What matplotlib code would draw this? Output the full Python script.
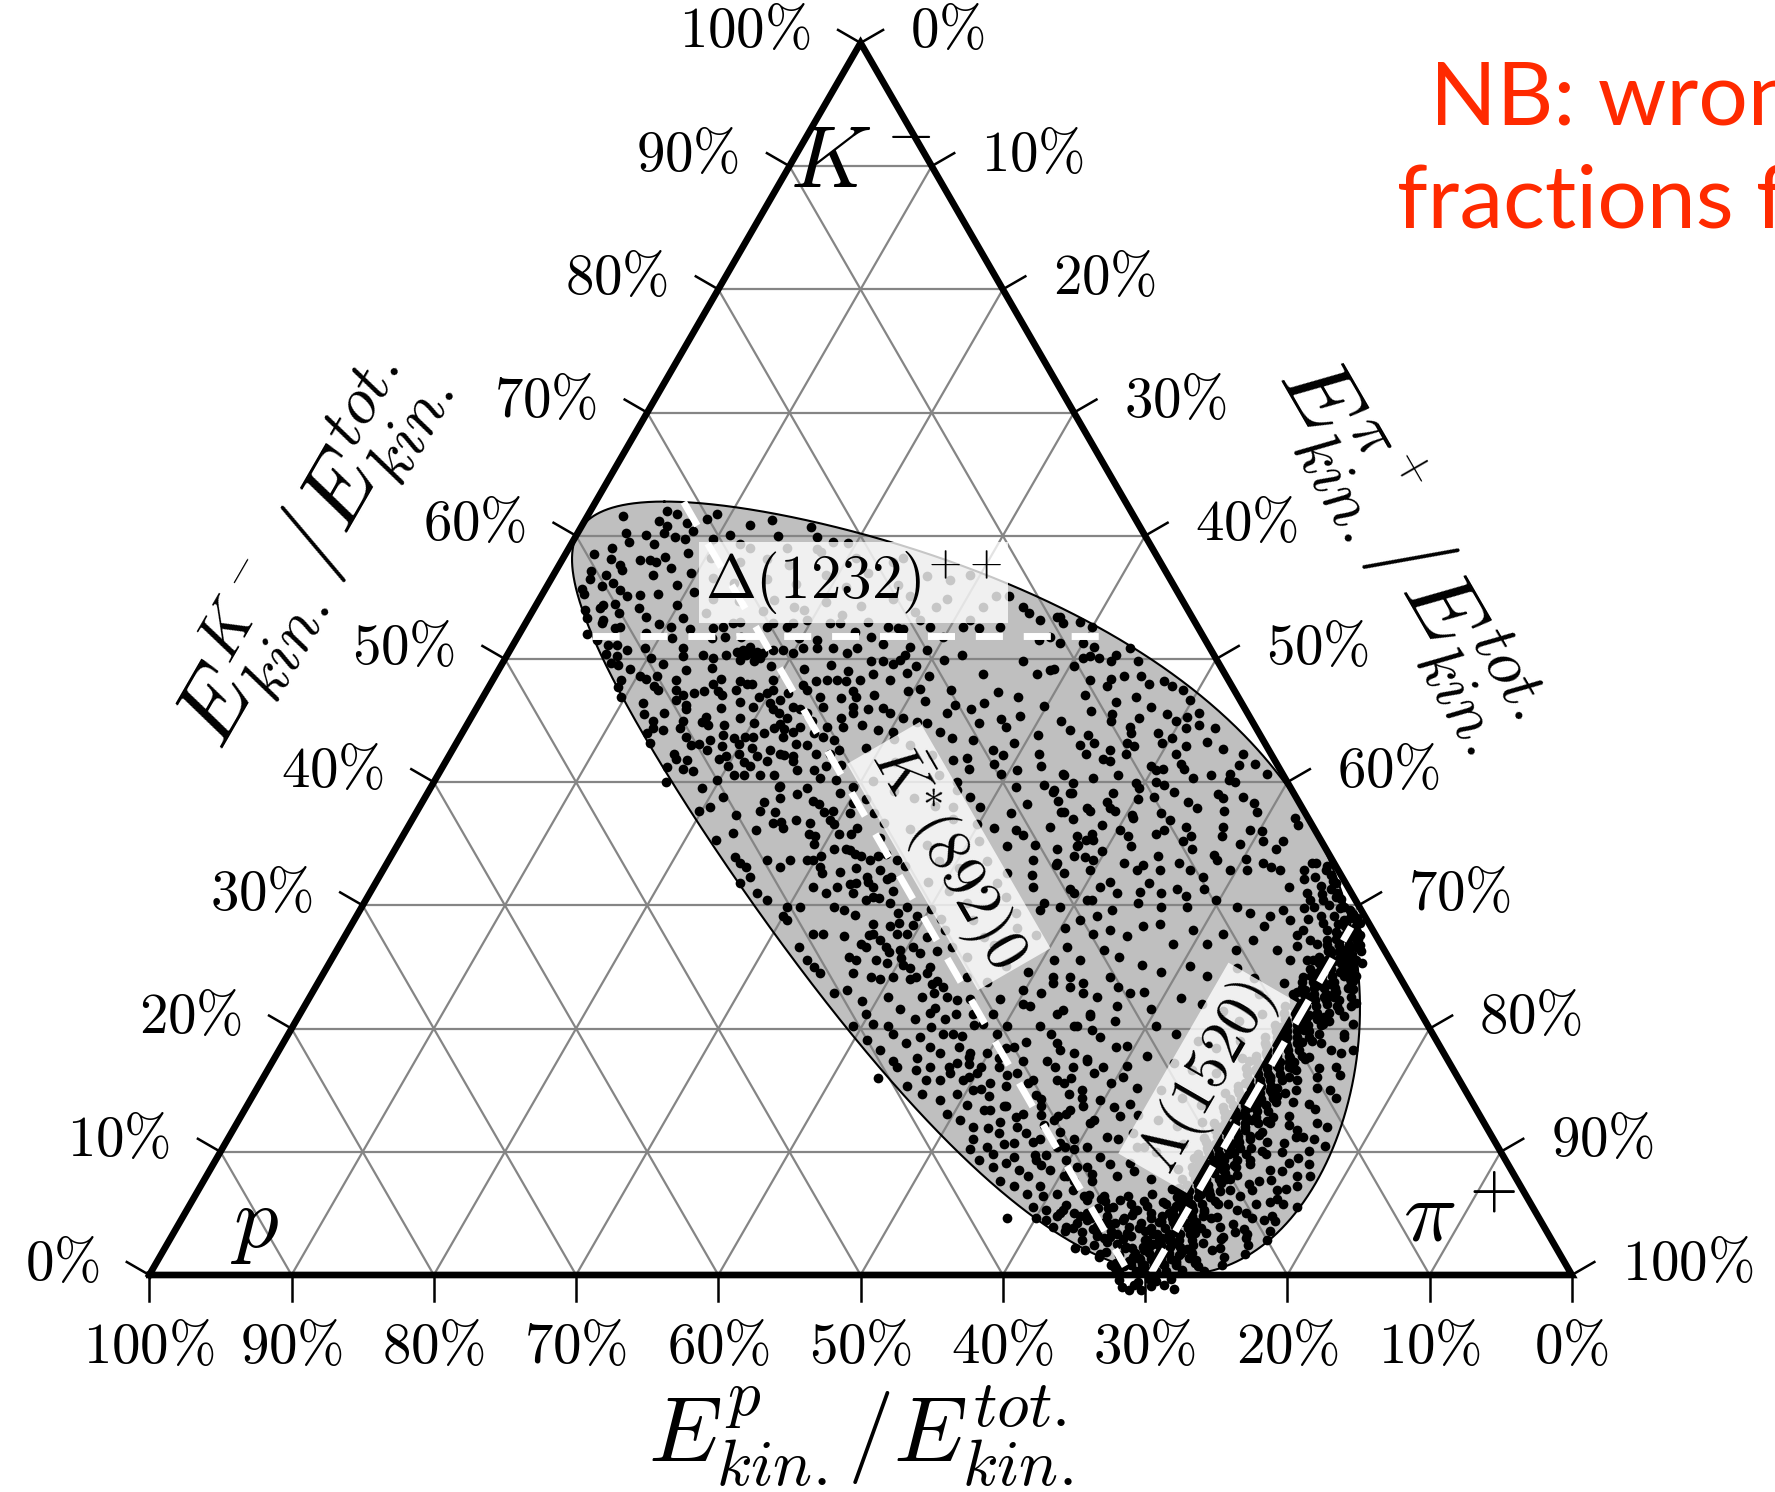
import numpy as np
import matplotlib
matplotlib.use("Agg")
import matplotlib.pyplot as plt
from matplotlib.patches import Polygon

plt.rcParams['mathtext.fontset'] = 'cm'
plt.rcParams['font.family'] = ['DejaVu Sans']

# ---------------- data ----------------
# Lambda_c+ -> p K- pi+ : masses in MeV
M_MOTHER = 2286.46
M_DAUGHTERS = {"p": 938.272, "K": 493.677, "pi": 139.570}
# resonance masses (MeV) for the dashed lines
RESONANCES = {"Delta": 1232.0, "Kstar": 895.55, "Lambda": 1519.5}
TICK_PCT = [0, 10, 20, 30, 40, 50, 60, 70, 80, 90, 100]

# events: (pi+ fraction %, K- fraction %)
events_upper_left = [
(5.4,62.0),(6.2,61.8),(7.3,61.0),(8.5,61.4),(9.0,61.8),(2.5,61.6),(5.2,61.2),(13.1,61.3),(16.2,60.7),(10.8,60.1),
(9.8,59.7),(7.8,59.7),(7.0,59.9),(6.1,60.2),(4.9,60.1),(3.4,60.2),(4.0,59.5),(11.9,59.3),(15.3,59.0),(18.3,59.5),
(19.4,59.4),(17.5,58.9),(17.9,58.7),(5.5,58.0),(6.2,58.0),(6.7,57.9),(7.1,58.3),(4.3,57.6),(4.6,57.2),(2.5,57.1),
(3.7,56.8),(2.7,56.5),(7.0,56.8),(9.1,56.0),(2.6,55.7),(5.3,55.6),(6.0,55.1),(6.9,55.2),(5.5,54.5),(4.7,54.4),
(4.6,54.1),(7.4,54.1),(9.9,54.4),(8.2,53.4),(4.1,53.3),(5.3,53.2),(6.8,52.6),(6.5,52.5),(9.4,52.8),(10.4,52.6),
(4.8,52.0),(8.9,52.1),(6.7,51.1),(7.3,51.1),(8.2,50.7),(9.4,50.9),(12.1,50.9),(13.4,52.5),(14.0,52.6),(14.6,52.9),
(15.0,53.0),(13.7,51.7),(14.6,51.8),(15.7,51.8),(17.1,52.6),(17.4,52.9),(18.5,52.6),(18.8,52.9),(19.6,53.2),(21.4,52.9),
(22.1,52.9),(24.0,53.0),(25.6,52.6),(26.4,52.5),(7.8,50.2),(10.2,50.1),(12.4,50.2),(13.8,50.3),(14.6,50.1),(15.4,50.3),
(16.0,50.6),(16.4,50.7),(17.0,50.5),(17.4,50.6),(17.9,50.1),(17.6,49.8),(16.6,49.9),(18.5,50.7),(19.2,50.7),(20.0,50.5),
(20.5,50.9),(21.5,50.9),(22.6,50.9),(23.8,50.5),(24.3,50.9),(25.8,49.8),(26.7,49.8),(27.5,49.6),(8.2,49.5),(9.2,49.2),
(10.2,48.6),(10.7,48.4),(11.4,48.6),(11.6,47.8),(12.0,47.5),(12.9,48.3),(13.3,47.5),(14.0,47.1),(14.7,47.2),(15.3,47.4),
(15.6,48.0),(16.0,48.4),(16.7,47.1),(17.5,47.5),(17.4,48.2),(18.0,48.0),(18.4,48.0),(19.4,46.9),(19.8,47.2),(20.1,47.5),
(21.0,46.7),(21.3,47.2),(22.0,47.9),(22.5,47.5),(22.8,48.2),(23.5,48.3),(24.2,48.3),(24.9,48.2),(25.8,47.4),(25.8,48.3),
(26.5,48.8),(27.9,48.3),(11.5,46.4),(13.7,46.7),(14.8,45.9),(16.5,45.3),(16.3,47.4),(18.3,46.5),(19.4,46.1),(20.4,46.4),
(20.9,45.9),(21.5,45.6),(22.2,45.2),(22.8,45.9),(23.4,45.6),(23.7,46.9),(24.3,46.1),(26.4,46.1),(26.2,46.9),(27.6,45.9),
(28.6,46.0),(29.3,45.6),(12.9,45.0),(13.2,44.4),(14.0,44.2),(15.1,44.4),(15.0,45.0),(15.9,43.7),(17.1,43.1),(17.7,43.4),
(18.4,43.8),(19.3,43.6),(19.9,43.1),(20.6,43.7),(21.2,44.0),(21.7,44.4),(22.7,43.7),(23.2,44.1),(23.9,43.1),(24.7,43.0),
(24.7,44.0),(25.5,43.7),(26.4,43.4),(26.0,45.2),(26.5,44.5),(26.7,45.6),(15.7,42.3),(16.1,41.9),(16.9,41.8),(17.9,42.6),
(19.1,41.9),(19.5,42.1),(20.3,42.3),(21.7,42.1),(22.3,42.6),(23.2,42.3),(24.2,42.1),(25.7,42.3),(26.7,42.3),(27.2,42.6),
(16.8,50.3),(17.5,50.2),(17.9,50.5),(16.2,50.6),(16.7,51.0),(19.7,48.3),(22.2,46.1),(24.1,45.0),(25.4,44.5),(23.5,44.5),
]
events_upper_left_more = [
(3.0,59.0),(5.8,59.3),(8.6,58.6),(10.4,58.2),(12.6,57.9),(14.4,58.1),(16.2,57.6),(20.6,58.2),(22.0,57.0),(3.4,58.1),
(8.0,57.4),(9.6,57.0),(11.3,56.6),(13.0,56.2),(15.2,56.5),(17.4,56.1),(19.2,56.8),(21.1,55.8),(24.6,56.0),(25.9,55.1),
(2.9,55.3),(3.9,55.9),(8.1,55.3),(10.6,55.4),(12.2,54.9),(14.1,54.7),(16.5,54.8),(18.2,54.2),(20.3,54.6),(22.9,54.3),
(24.8,54.9),(26.9,53.8),(3.6,54.0),(6.2,53.7),(10.9,53.3),(12.3,53.7),(16.2,53.9),(19.0,54.0),(21.9,53.6),(23.5,52.2),
(5.4,52.9),(5.7,51.5),(10.9,51.7),(11.8,52.4),(19.8,51.7),(21.2,51.5),(24.8,51.8),(26.0,51.2),(28.0,50.3),(6.9,50.4),
(7.6,49.7),(11.3,49.6),(13.2,49.1),(14.9,49.3),(19.0,49.4),(21.4,49.2),(23.2,49.5),(24.6,49.0),(28.8,48.9),(30.5,48.6),
(9.0,48.3),(9.1,47.7),(14.6,46.3),(17.2,46.0),(18.9,45.2),(20.1,44.8),(22.0,44.7),(25.2,46.8),(27.4,47.1),(29.6,47.4),
(31.2,46.6),(9.7,46.9),(12.0,45.5),(13.4,45.6),(16.4,44.9),(18.1,44.6),(27.8,44.6),(29.1,44.2),(30.4,45.2),(13.0,44.0),
(13.6,43.2),(16.6,43.0),(18.8,42.9),(21.0,42.8),(24.4,41.7),(27.9,41.4),(29.0,42.8),(30.6,43.5),(15.8,41.2),(17.8,40.9),
(20.0,41.3),(22.6,41.7),(6.0,60.8),(8.0,60.4),(11.8,60.9),(14.2,60.0),(17.0,59.9),(12.7,59.0),(2.0,58.5),(4.5,56.2),
]
events_upper_mid = [
(23.3,57.9),(23.9,58.2),(26.3,56.7),(28.1,56.4),(29.3,56.8),(28.6,54.9),(28.2,54.2),(31.5,54.2),(32.0,55.1),(32.9,55.1),
(27.6,53.2),(28.6,52.6),(29.9,51.8),(30.9,52.6),(31.1,53.2),(32.1,52.5),(33.5,52.6),(34.3,54.2),(35.0,53.7),(36.0,53.2),
(37.4,51.8),(37.3,53.4),(36.8,51.5),(29.3,50.7),(30.9,49.9),(32.0,50.3),(34.2,48.8),(36.5,49.8),(38.0,48.8),(38.8,49.1),
(28.0,51.0),(29.2,49.4),(27.8,49.9),(26.8,52.4),(33.5,46.3),(34.8,45.9),(35.5,46.4),(31.5,44.9),(32.3,44.8),(33.3,45.6),
(33.5,44.1),(37.3,45.1),(38.0,44.5),(38.5,45.4),(40.6,43.8),(41.4,42.3),(39.2,43.2),(36.2,43.4),(38.0,42.6),(38.9,42.2),
(36.5,42.0),(32.6,47.5),(36.0,47.3),(30.4,47.6),
]
events_middle_more = [
(30.2,44.1),(32.0,43.0),(34.6,43.6),(35.9,44.8),(37.6,46.9),(39.8,46.2),(41.6,45.0),(42.2,47.1),(43.3,45.8),(45.9,46.9),
(31.6,41.6),(33.9,42.2),(35.2,40.6),(36.8,40.0),(39.5,40.7),(41.1,39.6),(42.6,38.2),(44.6,38.5),(46.2,40.3),(47.8,40.6),
(30.8,40.1),(32.7,39.3),(34.4,38.7),(36.2,38.1),(38.0,37.0),(39.9,36.6),(40.7,35.2),(43.6,35.7),(44.8,34.9),(46.4,37.0),
(27.4,38.5),(29.8,36.6),(31.4,35.8),(33.6,35.5),(35.4,36.2),(37.2,34.9),(38.7,33.6),(40.4,33.0),(42.1,33.6),(43.7,31.8),
(30.6,33.1),(32.2,32.7),(36.5,33.2),(38.8,31.9),(40.6,31.2),(42.4,30.2),(44.9,30.7),(46.2,29.4),(45.8,32.5),(48.8,33.9),
(33.2,29.9),(35.0,29.2),(36.6,28.5),(38.4,28.6),(40.1,29.7),(41.9,28.0),(43.5,28.8),(45.0,27.4),(46.9,28.2),(48.5,27.6),
(50.3,28.2),(52.9,29.6),(54.4,30.2),(56.2,29.9),(57.5,30.8),(53.9,34.0),(56.0,34.6),(57.8,34.1),(60.2,33.8),(62.3,33.1),
(49.8,34.4),(51.6,34.8),(53.2,33.3),(55.1,35.2),(57.6,35.6),(50.4,37.3),(53.8,38.4),(55.6,39.0),(46.2,42.6),(48.9,44.0),
(51.0,45.6),(54.1,42.7),(53.2,40.3),(42.6,44.2),(44.9,45.5),
]
events_right_upper = [
(37.1,53.4),(37.8,52.9),(38.9,53.0),(40.0,52.6),(38.4,51.3),(40.0,51.3),(40.9,51.0),(41.0,50.2),(41.7,50.1),(42.7,49.8),
(42.8,50.3),(43.5,50.9),(44.6,49.8),(39.0,49.2),(40.3,49.4),(40.6,50.1),(43.4,48.4),(44.2,48.6),(45.4,48.6),(42.0,48.3),
(43.4,47.8),(46.3,48.0),(47.2,48.2),(48.0,47.8),(48.9,47.5),(49.8,46.7),(44.7,46.5),(47.4,46.1),(45.1,45.0),(47.0,45.2),
(48.8,45.5),(50.3,45.3),(49.7,45.0),(50.7,44.4),(51.5,44.6),(52.7,44.4),(46.7,44.5),(47.0,44.0),(44.1,43.8),(43.9,43.0),
(44.8,43.2),(44.7,42.3),(46.1,41.9),(46.7,41.7),(47.1,43.2),(47.8,42.9),(47.5,42.3),(49.6,43.2),(50.1,43.6),(51.4,42.9),
(52.7,43.3),(51.0,42.3),(55.7,42.3),(55.9,41.4),(57.0,41.5),(58.2,40.7),(55.6,40.7),(54.3,40.6),(55.8,40.2),(56.3,40.0),
(44.0,40.6),(43.9,39.4),(45.3,39.1),(48.2,39.1),(48.1,38.4),(48.6,37.9),(49.0,37.7),(49.4,39.9),(49.8,39.5),(50.2,38.6),
(49.8,41.3),(50.3,41.0),(50.7,41.1),(52.2,41.1),(51.8,41.5),(52.4,39.2),(50.8,40.0),(51.4,39.8),(51.2,38.8),(52.4,37.5),
(53.3,36.9),(53.3,36.1),(52.9,35.8),(50.6,37.1),(50.2,36.1),(51.0,35.6),(48.7,35.3),(48.7,36.5),(47.0,37.9),(45.3,37.6),
(46.5,34.6),(47.8,34.9),(54.7,36.4),(55.4,35.6),(54.7,37.9),(56.1,38.7),(56.7,37.7),(57.3,36.4),(57.5,38.8),(58.5,38.3),
(59.1,37.6),(59.3,36.1),(60.2,36.0),(60.7,35.2),(59.2,35.0),(61.9,34.6),(62.0,37.1),(62.5,36.5),(62.1,35.2),
]
events_right_lower = [
(47.1,33.3),(48.0,34.0),(49.5,33.7),(51.6,31.9),(51.8,33.4),(53.0,32.9),(54.4,31.8),(54.6,32.9),(55.7,33.4),(56.7,32.9),
(57.9,32.3),(58.2,33.7),(59.5,32.9),(60.7,32.9),(61.6,33.4),(63.0,32.9),(64.4,31.5),(65.3,33.4),(66.3,32.9),(65.1,32.1),
(66.4,30.4),(66.9,29.9),(67.3,30.4),(67.4,31.3),(68.1,30.7),(69.0,29.9),(68.7,29.1),(69.6,29.6),(69.7,28.5),(70.0,27.5),
(70.5,27.7),(71.3,27.2),(70.7,26.4),(69.8,26.4),(70.0,25.6),(68.6,26.9),(67.1,28.0),(65.8,28.8),(64.9,29.6),(64.2,29.1),
(64.2,28.3),(62.7,29.4),(61.5,29.9),(59.8,30.4),(58.5,31.3),(58.0,29.9),(56.6,31.3),(55.6,31.0),(54.1,31.1),(52.5,31.0),
(51.1,31.5),(50.7,30.4),(49.1,31.3),(49.1,29.9),(51.0,28.8),(52.1,29.1),(53.5,28.0),(55.0,27.5),(55.7,28.3),(56.8,28.5),
(58.5,26.9),(59.4,28.0),(60.9,26.9),(61.6,27.7),(63.2,26.4),(64.0,27.2),(66.1,26.4),(67.3,26.7),(67.4,25.6),(68.6,25.6),
(51.4,24.2),(53.0,23.4),(53.8,23.7),(55.3,22.6),(55.4,24.2),(57.1,21.8),(57.5,22.9),(53.5,21.5),(55.1,20.2),(55.6,21.0),
(57.2,19.3),(58.7,18.5),(54.9,18.3),(56.5,16.9),(57.2,17.5),(58.6,16.9),(60.4,16.1),(56.5,15.6),(58.1,15.0),(59.7,14.2),
(59.8,15.6),(62.0,13.9),(57.4,12.9),(58.0,13.4),(60.0,12.3),(61.7,11.2),(61.8,12.9),(63.4,11.5),(64.7,10.4),(58.7,10.7),
(59.9,10.2),(61.5,8.8),(62.0,9.6),(64.0,8.0),(64.4,9.1),(60.5,8.0),(62.5,6.4),(63.9,6.4),(65.2,6.1),(66.8,5.3),
(61.6,5.3),(63.1,4.2),(64.5,3.7),(66.0,3.1),(67.0,3.4),(68.7,2.3),(67.5,0.95),(68.4,1.5),
(67.9,23.7),(69.0,24.2),(70.1,24.8),(71.4,25.0),(72.6,23.7),(71.8,22.9),(70.7,22.3),(69.5,21.8),(72.9,21.5),(73.8,22.1),
(72.3,20.4),(71.2,19.9),(70.0,19.3),(74.3,19.3),(75.5,18.3),(73.9,18.3),(72.7,17.7),(71.7,16.9),(70.7,16.1),(75.0,16.9),
(74.0,16.1),(73.1,15.0),(72.0,14.5),(70.9,13.9),(75.5,15.0),(74.6,13.9),(73.7,12.9),(72.6,12.3),(75.9,12.3),(75.5,11.2),
(74.4,10.7),(73.2,10.1),(72.7,9.3),(76.5,10.1),(75.6,9.1),(74.5,8.5),(73.6,7.4),(72.5,6.9),(76.7,8.0),(75.8,6.9),
(74.9,5.8),(73.8,5.3),(72.7,4.7),(76.8,5.8),(76.1,4.5),(75.1,3.7),(73.9,3.1),(72.8,2.6),(72.1,2.0),(71.7,0.95),
(73.0,1.2),(69.5,-1.2),(69.6,-0.8),(70.3,-1.2),(71.0,-0.5),(68.9,-1.0),(72.0,-0.3),
]
events_right_of_kstar_more = [
(36.6,26.9),(38.9,26.2),(41.0,27.4),(43.1,26.6),(44.6,25.8),(46.0,26.8),(47.7,25.1),(49.5,24.6),(47.0,23.8),(48.6,22.4),
(50.4,22.0),(53.9,26.4),(55.3,25.8),(57.2,25.2),(58.8,24.6),(60.6,25.1),(62.2,24.3),(64.0,24.9),(65.6,24.1),(66.6,22.8),
(56.4,23.4),(58.4,23.0),(59.6,21.6),(61.3,22.5),(63.0,22.0),(64.8,21.4),(66.3,20.6),(67.6,21.2),(60.7,20.2),(62.4,19.6),
(64.2,19.0),(65.8,18.4),(67.2,19.0),(59.4,18.6),(61.2,17.8),(63.4,17.2),(65.0,16.6),(66.8,16.4),(68.0,17.6),(60.2,17.0),
(61.8,15.2),(63.6,15.0),(65.4,14.4),(67.0,13.8),(68.2,14.8),(61.0,13.6),(63.0,13.0),(64.6,12.6),(66.2,12.1),(67.8,12.4),
(62.6,11.0),(64.2,10.4),(65.8,10.0),(67.4,10.6),(63.0,9.0),(65.0,8.4),(66.5,7.8),(68.0,8.6),(67.2,6.6),(68.3,5.9),
(39.0,22.2),(40.6,22.6),(42.0,21.6),(43.4,20.8),(44.9,20.1),(46.1,21.2),(45.2,17.6),(46.4,16.9),(48.1,16.4),(49.1,17.1),
(50.9,17.6),(52.2,18.9),(53.6,19.6),(56.3,19.9),(57.6,20.6),(55.2,16.9),(56.8,16.0),(58.4,14.4),(55.0,14.6),(56.2,13.0),
(50.6,13.8),(51.8,14.5),(53.6,12.4),(55.0,12.0),(56.7,10.8),(52.6,10.2),(54.4,9.8),(56.0,9.6),(58.2,9.7),(59.8,9.3),
(56.0,7.6),(57.8,8.0),(59.6,6.4),(61.2,7.6),(60.0,4.6),(61.4,4.8),(63.0,4.8),(64.0,5.4),(65.8,4.2),(64.0,2.2),
(41.5,24.0),(40.4,25.2),(38.5,26.6),(37.9,29.4),(36.0,30.6),(34.6,31.9),(33.2,33.0),(32.0,34.5),(30.6,35.8),(29.4,36.9),
(43.0,22.6),(44.2,21.3),(46.0,19.6),(47.4,19.4),(48.2,17.2),(49.6,16.1),(50.9,15.1),(52.0,13.4),(53.0,11.9),(54.8,10.6),
]
events_lambda_band = [
(69.2,0.3),(70.0,0.3),(70.6,0.3),(71.3,0.3),(68.6,0.8),(69.5,0.8),(70.2,0.8),(70.9,0.8),(71.8,0.8),
(69.0,1.3),(69.8,1.3),(70.5,1.3),(71.2,1.3),(68.4,1.8),(69.4,1.8),(70.1,1.8),(70.8,1.8),(71.6,1.8),(72.4,1.8),
(69.1,2.3),(69.9,2.3),(70.6,2.3),(71.3,2.3),(68.7,2.8),(69.6,2.8),(70.3,2.8),(71.0,2.8),(71.9,2.8),
(69.2,3.3),(70.0,3.3),(70.8,3.3),(71.5,3.3),(68.5,3.8),(69.5,3.8),(70.3,3.8),(71.1,3.8),(72.0,3.8),
(69.0,4.3),(69.8,4.3),(70.6,4.3),(71.4,4.3),(68.8,4.8),(69.6,4.8),(70.2,4.8),(70.9,4.8),(71.7,4.8),
(69.3,5.3),(70.0,5.3),(70.7,5.3),(71.5,5.3),(68.6,5.8),(69.5,5.8),(70.3,5.8),(71.1,5.8),(72.2,5.8),
(69.1,6.3),(69.9,6.3),(70.6,6.3),(71.4,6.3),(68.9,6.8),(69.7,6.8),(70.4,6.8),(71.1,6.8),(71.9,6.8),
(69.3,7.3),(70.1,7.3),(70.8,7.3),(68.7,7.8),(69.6,7.8),(70.4,7.8),(71.3,7.8),(72.1,7.8),
(69.2,8.3),(70.0,8.3),(70.7,8.3),(71.5,8.3),(68.9,8.8),(69.7,8.8),(70.4,8.8),(71.2,8.8),
(69.4,9.3),(70.2,9.3),(70.9,9.3),(71.8,9.3),(68.8,9.8),(69.6,9.8),(70.3,9.8),(71.0,9.8),
(69.2,10.3),(70.0,10.3),(70.7,10.3),(71.5,10.3),(72.3,10.3),(68.9,10.8),(69.8,10.8),(70.5,10.8),(71.2,10.8),
(69.4,11.3),(70.2,11.3),(70.9,11.3),(71.7,11.3),(69.0,11.8),(69.7,11.8),(70.4,11.8),(71.1,11.8),
(68.7,12.3),(69.5,12.3),(70.2,12.3),(70.9,12.3),(71.8,12.3),(69.2,12.8),(70.0,12.8),(70.7,12.8),(71.4,12.8),
(68.9,13.3),(69.7,13.3),(70.4,13.3),(71.2,13.3),(72.0,13.3),(69.3,13.8),(70.1,13.8),(70.8,13.8),(71.6,13.8),
(68.8,14.3),(69.6,14.3),(70.3,14.3),(71.0,14.3),(69.2,14.8),(70.0,14.8),(70.7,14.8),(71.5,14.8),(72.4,14.8),
(68.9,15.3),(69.7,15.3),(70.5,15.3),(71.2,15.3),(69.4,15.8),(70.2,15.8),(70.9,15.8),(71.7,15.8),
(69.0,16.3),(69.8,16.3),(70.5,16.3),(71.3,16.3),(68.7,16.8),(69.5,16.8),(70.2,16.8),(71.0,16.8),(71.9,16.8),
(69.2,17.3),(70.0,17.3),(70.8,17.3),(71.5,17.3),(68.9,17.8),(69.7,17.8),(70.4,17.8),(71.2,17.8),(72.1,17.8),
(69.4,18.3),(70.1,18.3),(70.9,18.3),(71.7,18.3),(69.0,18.8),(69.8,18.8),(70.5,18.8),(71.3,18.8),
(68.8,19.3),(69.6,19.3),(70.3,19.3),(71.0,19.3),(71.9,19.3),(69.3,19.8),(70.1,19.8),(70.8,19.8),(71.6,19.8),
(69.0,20.3),(69.8,20.3),(70.5,20.3),(71.3,20.3),(72.2,20.3),(69.4,20.8),(70.2,20.8),(70.9,20.8),(71.7,20.8),
(69.1,21.3),(69.9,21.3),(70.6,21.3),(71.4,21.3),(72.3,21.3),(68.9,21.8),(69.7,21.8),(70.4,21.8),(71.1,21.8),
(69.3,22.3),(70.1,22.3),(70.8,22.3),(71.6,22.3),(72.5,22.3),(69.0,22.8),(69.8,22.8),(70.5,22.8),(71.3,22.8),
(69.4,23.3),(70.2,23.3),(70.9,23.3),(71.7,23.3),(72.6,23.3),(69.1,23.8),(69.9,23.8),(70.6,23.8),(71.4,23.8),
(69.5,24.3),(70.3,24.3),(71.0,24.3),(71.8,24.3),(72.7,24.3),(69.2,24.8),(70.0,24.8),(70.7,24.8),(71.5,24.8),
(69.6,25.3),(70.4,25.3),(71.1,25.3),(71.9,25.3),(72.6,25.3),(69.3,25.8),(70.1,25.8),(70.8,25.8),(71.6,25.8),
(69.7,26.3),(70.5,26.3),(71.2,26.3),(72.0,26.3),(69.4,26.8),(70.2,26.8),(70.9,26.8),(71.7,26.8),
(69.8,27.3),(70.6,27.3),(71.3,27.3),(69.5,27.8),(70.3,27.8),(71.0,27.8),(69.9,28.3),(70.7,28.3),
(69.6,28.8),(70.4,28.8),(70.0,29.3),
(68.0,31.0),(67.5,31.8),(66.8,32.5),(68.5,30.5),(67.2,32.0),(66.2,33.2),(67.9,30.0),(68.8,29.8),
(72.4,24.0),(73.0,23.2),(72.0,22.6),(73.5,21.0),(72.6,20.6),(74.2,19.6),(73.0,18.8),(74.8,18.0),(72.5,17.5),(73.8,16.8),
(75.6,16.2),(72.8,15.8),(74.5,15.2),(76.2,14.4),(73.4,14.0),(75.2,13.5),(72.6,12.8),(74.0,12.2),(76.8,12.0),(75.0,11.2),
(73.2,10.8),(77.4,10.5),(74.6,10.0),(76.0,9.5),(72.9,9.0),(75.4,8.4),(77.6,8.0),(74.2,7.6),(76.4,7.0),(73.5,6.4),
(75.8,5.9),(77.9,5.5),(74.6,5.0),(76.9,4.4),(73.3,3.9),(75.5,3.3),(77.2,2.8),(74.2,2.2),(76.2,1.7),(73.0,1.0),
(75.0,0.8),(72.4,0.4),(74.0,0.3),
]
events_lambda_band_more = [
(69.5,0.6),(70.4,1.1),(71.6,1.6),(68.9,2.0),(70.8,2.6),(69.7,3.0),(71.8,3.4),(70.1,4.0),(71.0,4.6),(69.2,5.0),
(70.5,5.6),(71.9,6.0),(69.4,6.5),(70.9,7.1),(71.6,7.5),(69.9,8.0),(71.1,8.6),(69.3,9.0),(70.6,9.6),(72.2,9.8),
(69.6,10.6),(71.0,11.0),(72.4,11.6),(69.9,12.1),(71.2,12.6),(69.5,13.1),(70.6,13.6),(72.2,14.0),(69.9,14.6),(71.3,15.0),
(69.2,15.6),(70.7,16.1),(72.3,16.6),(69.9,17.1),(71.4,17.6),(69.5,18.0),(70.7,18.6),(72.2,19.0),(69.8,19.6),(71.2,20.1),
(69.6,20.6),(71.0,21.1),(72.6,21.8),(69.9,22.1),(71.3,22.6),(69.7,23.1),(71.2,23.6),(72.7,23.9),(70.0,24.1),(71.4,24.6),
(69.9,25.1),(71.3,25.6),(70.0,26.1),(71.5,26.6),(70.1,27.1),(71.3,27.6),(70.2,28.1),(69.3,28.5),(70.8,28.6),(69.9,29.0),
(65.0,33.4),(65.8,32.3),(64.7,32.9),(66.6,31.6),(65.9,31.0),(67.0,30.9),(66.3,29.8),(67.8,29.1),(68.2,28.6),(67.0,28.9),
(68.8,28.0),(66.9,27.6),(68.0,27.2),(71.9,24.9),(72.0,25.6),(71.5,26.0),(72.2,24.4),(73.2,22.6),(73.6,21.8),(74.4,20.4),
(68.3,1.1),(69.9,1.5),(71.9,2.1),(69.3,2.5),(70.4,3.5),(71.4,3.9),(68.9,4.4),(72.3,4.6),(70.6,5.0),(69.8,5.9),
(71.3,6.5),(68.8,7.1),(70.3,7.6),(72.4,8.1),(69.5,8.6),(71.8,8.9),(70.1,9.1),(68.7,9.5),(71.3,9.9),(69.4,10.1),
(70.9,10.6),(68.6,11.1),(71.9,11.0),(70.6,11.6),(69.3,12.0),(72.3,12.5),(70.4,13.0),(68.7,13.6),(71.8,14.4),(70.5,14.6),
(69.0,15.0),(71.7,15.2),(70.3,15.6),(72.1,16.1),(69.4,16.6),(70.8,17.0),(68.6,17.4),(71.8,17.3),(70.3,18.0),(69.2,18.6),
(71.6,18.9),(70.1,19.1),(72.4,19.6),(69.5,20.1),(70.8,20.6),(72.1,20.9),(69.8,21.6),(71.8,22.0),(70.3,22.6),(69.2,23.0),
(71.9,23.0),(70.5,23.5),(69.8,24.5),(72.2,24.9),(70.5,25.5),(69.0,25.6),(70.9,26.0),(69.2,27.2),(70.9,27.5),(70.4,29.0),
]
events_lower_left = [
(16.3,40.0),(17.0,41.1),(19.1,39.5),(19.8,40.2),(20.8,40.6),(21.6,41.3),(22.6,40.6),(23.6,40.6),(24.5,39.6),(25.0,41.0),
(26.2,41.0),(26.9,41.3),(28.2,40.2),(29.0,39.1),(29.7,39.6),(24.0,38.4),(25.0,38.7),(24.1,37.7),(26.0,39.0),(26.5,39.5),
(20.9,38.8),(20.4,38.0),(19.8,37.7),(22.6,37.3),(24.6,36.1),(25.5,36.7),(26.4,36.3),(27.0,36.9),(28.1,36.7),(28.5,35.8),
(28.6,37.6),(29.2,37.7),(30.5,37.5),(30.3,38.3),(31.1,38.6),(32.2,37.5),(33.3,36.7),(35.6,41.8),(37.1,41.1),(38.6,41.5),
(40.5,41.0),(42.0,41.3),(43.9,40.7),(45.0,39.9),(43.0,39.8),(43.9,39.2),(45.2,39.1),(37.1,39.4),(38.3,38.8),(39.4,38.0),
(41.8,37.5),(42.9,36.1),(41.2,36.3),(45.5,37.6),(47.3,37.7),(37.5,38.0),(45.1,36.4),(47.4,35.6),(48.2,35.3),
(22.2,35.3),(23.1,35.9),(29.2,35.0),(30.8,34.6),(31.7,34.6),(33.0,34.0),(33.8,33.7),(34.2,34.0),(34.7,34.2),(35.7,33.7),
(34.9,32.9),(34.3,32.3),(33.8,31.8),(35.1,31.5),(35.8,32.1),(36.7,31.2),(35.5,30.7),(35.2,30.4),(34.0,31.0),(32.6,31.5),
(32.1,31.0),(30.9,31.5),(30.8,29.9),(29.9,29.9),(30.0,29.1),(28.2,30.4),(27.2,31.0),(25.6,31.8),(26.1,32.3),(25.4,33.1),
(26.6,33.7),(27.8,33.1),(28.2,33.7),(29.4,33.7),(30.2,34.0),(24.8,33.4),(24.2,33.9),(42.9,34.8),(45.3,33.7),
(47.1,33.4),(47.8,34.8),(48.4,35.8),(44.0,32.6),(46.4,31.5),(48.0,32.6),(49.7,32.9),(47.8,30.2),(49.5,31.0),(51.1,30.4),
(47.8,29.6),(38.3,29.9),(39.4,29.1),
(30.4,28.8),(32.8,27.7),(33.5,27.7),(33.4,25.6),(34.2,25.0),(34.9,24.5),(36.7,22.9),(37.5,23.1),
(36.3,25.8),(36.9,25.6),(37.1,26.6),(37.0,27.7),(37.8,27.2),(37.9,28.3),(38.7,27.7),(39.6,26.4),(38.3,25.6),(39.2,25.3),
(37.2,24.5),(38.6,24.2),(39.4,24.0),(40.2,24.2),(39.4,27.7),(40.4,26.6),(41.1,26.1),(42.4,25.0),(43.4,23.9),(44.1,23.4),
(42.4,24.5),(41.8,24.2),(43.7,22.9),(44.8,22.6),(45.6,22.3),(35.1,27.5),(32.4,26.6),
(51.7,23.7),(52.6,24.2),(54.2,22.9),(51.2,22.9),(49.9,23.1),(51.2,26.6),(52.6,25.6),(52.5,27.7),(50.8,25.6),
(39.4,20.2),(39.8,21.2),(40.7,20.4),(41.8,20.2),(42.5,19.6),(40.9,19.1),(42.2,18.3),(43.6,17.4),(43.8,18.8),
(44.5,19.3),(45.6,18.5),(46.6,18.0),(46.7,19.6),(47.7,18.5),(48.7,18.0),(47.3,21.2),(48.4,20.4),(48.7,21.2),(50.2,20.2),
(51.5,18.5),(52.7,17.4),(51.3,16.9),(49.9,18.0),(50.0,16.4),(49.3,15.8),(47.8,16.9),(47.7,15.8),(46.7,15.8),(45.6,16.6),
(45.6,15.3),(44.1,16.9),(47.0,14.7),(48.5,14.2),(49.4,14.7),(50.4,15.0),(51.3,15.6),(52.6,15.3),
(52.8,16.4),(54.2,15.8),(54.4,17.4),(54.4,18.8),(54.9,20.2),(55.5,21.2),(52.5,20.2),(53.2,21.2),(51.0,21.8),(56.0,18.0),
(57.2,17.4),(58.2,16.4),(55.9,15.8),(57.3,14.7),(43.2,16.0),
(49.5,13.1),(50.7,12.6),(51.9,12.0),(52.4,13.4),(53.4,13.7),(54.9,13.1),(55.8,13.7),(57.3,12.6),(57.9,13.1),(58.8,13.7),
(60.1,12.6),(52.4,11.0),(53.7,10.4),(54.0,11.5),(55.4,10.7),(55.9,11.5),(57.1,11.0),(58.6,10.4),(59.5,11.0),(60.7,10.4),
(53.7,9.3),(54.9,8.8),(55.7,9.1),(56.9,8.5),(57.7,9.3),(59.1,8.5),(60.3,8.0),(60.8,8.8),(62.2,8.2),(57.2,7.2),
(58.4,6.6),(59.0,7.2),(60.5,6.6),(61.5,6.9),(62.9,6.1),(58.0,4.6),(59.4,5.5),(60.4,5.3),(61.5,5.0),(62.5,5.0),
(63.7,4.5),(64.9,3.4),(64.2,2.8),(62.5,3.9),(61.6,3.9),(60.8,4.5),
]
events_kstar_band = [
(67.5,2.2),(66.0,1.7),(68.8,2.6),(65.0,4.3),(63.0,3.8),(66.2,4.6),(63.8,6.2),(61.6,5.7),(60.5,8.3),(62.5,7.6),
(58.2,8.9),(59.2,10.4),(57.4,9.7),(56.8,12.2),(58.2,11.6),(54.5,12.8),(55.5,14.3),(53.2,13.7),(52.2,16.2),(54.0,15.6),
(50.0,16.9),(51.0,18.4),(48.8,17.7),(47.8,20.3),(49.8,19.6),(45.5,20.8),(46.5,22.4),(44.4,21.7),(45.4,24.2),(43.2,23.6),
(41.0,24.9),(42.2,26.3),(40.0,25.7),(39.5,28.4),(36.8,27.6),(41.2,28.9),(37.0,30.2),(34.0,29.6),(36.0,32.3),(33.4,31.7),
(31.0,32.6),(32.5,34.2),(29.8,33.7),(31.6,36.3),(29.0,35.6),(26.0,36.8),(28.0,38.2),(25.2,37.6),(27.0,40.3),(24.5,39.7),
(21.5,40.6),(23.5,42.2),(21.0,41.6),(22.5,44.3),(20.0,43.7),(17.0,44.6),
]
events_bottom = [
(67.6,0.6),(67.8,1.0),(66.0,1.5),(64.8,2.0),(67.2,0.8),(66.8,2.5),(65.6,3.0),(63.8,3.5),(68.5,1.2),(68.0,2.2),
(64.6,4.0),(66.2,4.5),(67.4,3.2),(63.4,5.0),(65.0,5.5),(68.0,0.3),(68.6,2.8),(67.6,4.2),(66.6,5.2),(64.2,6.0),
(62.8,6.5),(62.6,3.6),(69.8,-0.6),(70.9,-0.9),(68.4,-0.4),(72.6,-1.1),
(65.2,2.4),(66.3,1.9),(67.4,1.6),(67.0,2.9),(65.8,3.6),(66.9,3.9),(64.9,4.8),(65.6,6.4),(66.9,6.0),(67.9,5.0),
(68.2,3.6),(68.9,1.4),(68.2,0.7),(69.3,0.9),(70.4,1.6),(71.6,1.1),(72.2,2.4),(70.2,3.1),(71.2,4.0),(72.6,3.4),
(73.7,2.0),(74.8,1.5),(76.0,2.4),(75.2,4.6),(77.0,3.6),(74.1,4.1),(70.4,-0.3),(71.7,-0.8),(70.8,0.9),(69.9,2.4),
(68.8,4.3),(69.4,5.6),(70.6,6.6),(71.6,5.1),(72.9,5.8),(74.1,6.9),(75.0,7.7),(76.2,6.2),(77.1,7.2),(71.8,7.8),
(68.4,7.0),(69.0,9.4),(70.8,9.0),(72.0,8.8),(73.6,9.8),(74.8,11.8),(76.4,11.0),(77.0,9.0),(71.0,12.0),(72.3,11.4),
(66.0,2.7),(67.5,2.3),(68.9,3.3),(66.4,3.3),(67.7,3.8),(65.3,4.2),(66.6,4.9),(68.1,4.6),(67.3,5.6),(66.1,5.8),
(64.7,5.4),(63.9,4.6),(65.0,3.2),(69.6,4.6),(72.4,1.4),(73.4,0.7),(73.9,2.9),(75.6,3.0),(74.6,3.5),(76.5,4.8),
]

# ---------------- kinematics ----------------
Q_KIN = M_MOTHER - sum(M_DAUGHTERS.values())


def fractions(i, j, k, mij2, mjk2):
    M, m = M_MOTHER, M_DAUGHTERS
    mij2 = np.asarray(mij2, float)
    mjk2 = np.asarray(mjk2, float)
    Ek = (M**2 + m[k]**2 - mij2) / (2 * M) + 0 * mjk2
    Ei = (M**2 + m[i]**2 - mjk2) / (2 * M) + 0 * mij2
    Ej = M - Ei - Ek
    return {i: (Ei - m[i]) / Q_KIN, j: (Ej - m[j]) / Q_KIN, k: (Ek - m[k]) / Q_KIN}


def mjk2_range(i, j, k, mij):
    M, m = M_MOTHER, M_DAUGHTERS
    mij = np.asarray(mij, float)
    Ej = (mij**2 - m[i]**2 + m[j]**2) / (2 * mij)
    Ek = (M**2 - mij**2 - m[k]**2) / (2 * mij)
    pj = np.sqrt(np.clip(Ej**2 - m[j]**2, 0, None))
    pk = np.sqrt(np.clip(Ek**2 - m[k]**2, 0, None))
    s = (Ej + Ek)**2
    return s - (pj + pk)**2, s - (pj - pk)**2


def to_xy(pi_f, k_f):
    pi_f = np.asarray(pi_f, float)
    k_f = np.asarray(k_f, float)
    return pi_f + k_f / 2.0, k_f * np.sqrt(3) / 2.0


# ---------------- figure ----------------
fig = plt.figure(figsize=(17.75, 14.92), dpi=100)
ax = fig.add_axes([0, 0, 1, 1])
ax.set_xlim(-0.10495, 1.1428)
ax.set_ylim(-0.15254, 0.8962)
ax.axis('off')

# Dalitz boundary
m_lo = M_DAUGHTERS['p'] + M_DAUGHTERS['pi']
m_hi = M_MOTHER - M_DAUGHTERS['K']
t = np.linspace(0, np.pi, 800)
mij = 0.5 * (m_lo + m_hi) - 0.5 * (m_hi - m_lo) * np.cos(t)
lo2, hi2 = mjk2_range('p', 'pi', 'K', mij)
fa = fractions('p', 'pi', 'K', mij**2, lo2)
fb = fractions('p', 'pi', 'K', mij**2, hi2)
bpi = np.concatenate([fa['pi'], fb['pi'][::-1]])
bk = np.concatenate([fa['K'], fb['K'][::-1]])
bx, by = to_xy(bpi, bk)
ax.add_patch(Polygon(np.column_stack([bx, by]), closed=True, fc='#bfbfbf', ec='none', zorder=1))
ax.plot(np.append(bx, bx[0]), np.append(by, by[0]), color='black', lw=1.5, zorder=2.5)

# grid
gcol, glw = '#858585', 1.6
for v in np.array(TICK_PCT[1:-1]) / 100.0:
    for (p1, p2) in [((0, v), (1 - v, v)), ((v, 0), (v, 1 - v)), ((1 - v, 0), (0, 1 - v))]:
        x, y = to_xy([p1[0], p2[0]], [p1[1], p2[1]])
        ax.plot(x, y, color=gcol, lw=glw, zorder=2)

# events
all_events = (events_upper_left + events_upper_left_more + events_upper_mid + events_middle_more
              + events_right_upper + events_right_lower + events_right_of_kstar_more
              + events_lambda_band + events_lambda_band_more + events_lower_left
              + events_kstar_band + events_bottom)
ev = np.array(all_events) / 100.0
ex, ey = to_xy(ev[:, 0], ev[:, 1])
ax.plot(ex, ey, 'o', color='black', ms=7.0, mew=0, zorder=3)

# resonance lines
for (i, j, k), key in [(('p', 'pi', 'K'), 'Delta'), (('K', 'pi', 'p'), 'Kstar'), (('p', 'K', 'pi'), 'Lambda')]:
    mres = RESONANCES[key]
    a2, b2 = mjk2_range(i, j, k, [mres])
    f1 = fractions(i, j, k, [mres**2], a2)
    f2 = fractions(i, j, k, [mres**2], b2)
    lx, ly = to_xy([f1['pi'][0], f2['pi'][0]], [f1['K'][0], f2['K'][0]])
    ax.plot(lx, ly, color='white', lw=5, dashes=(3.9, 3.0), dash_capstyle='butt', zorder=4)

# resonance labels
box = dict(boxstyle='square,pad=0.1', fc='white', ec='none', alpha=0.78)
for txt, (lp, lk), rot in [(r'$\Delta(1232)^{++}$', (0.214, 0.562), 0),
                           (r'$\bar{K}^{*}(892)0$', (0.392, 0.340), -60),
                           (r'$\Lambda(1520)$', (0.664, 0.160), 60)]:
    tx, ty = to_xy(lp, lk)
    ax.text(float(tx), float(ty), txt, fontsize=44, rotation=rot, rotation_mode='anchor',
            ha='center', va='center', bbox=box, zorder=5)

# triangle frame
fx, fy = to_xy([0, 1, 0, 0], [0, 0, 1, 0])
ax.plot(fx, fy, color='black', lw=4.8, solid_joinstyle='miter', solid_capstyle='projecting', zorder=6)

# ticks and tick labels
L = 26 / 1422.6
off = 0.035
dy = 0.0077
TFS = 41
c30, s30 = np.cos(np.radians(30)), np.sin(np.radians(30))
for v in TICK_PCT:
    f = v / 100.0
    # bottom axis: proton fraction (100% at left)
    xb = 1 - f
    ax.plot([xb, xb], [0, -L], color='black', lw=1.8, zorder=6)
    ax.text(xb, -0.0513, rf'${v}\%$', fontsize=TFS, ha='center', va='center')
    # left axis: K- fraction
    xl, yl = to_xy(0, f)
    xl, yl = float(xl), float(yl)
    ax.plot([xl, xl - L * c30], [yl, yl + L * s30], color='black', lw=1.8, zorder=6)
    ax.text(xl - off, yl + dy, rf'${v}\%$', fontsize=TFS, ha='right', va='center')
    # right axis: pi+ fraction (0% at top)
    xr, yr = to_xy(f, 1 - f)
    xr, yr = float(xr), float(yr)
    ax.plot([xr, xr + L * c30], [yr, yr + L * s30], color='black', lw=1.8, zorder=6)
    ax.text(xr + off, yr + dy, rf'${v}\%$', fontsize=TFS, ha='left', va='center')

# axis titles
ax.text(0.4996, -0.1139, r'$E^{p}_{kin.}/E^{tot.}_{kin.}$', fontsize=67, ha='center', va='center')
ax.text(0.1094, 0.5075, r'$E^{K^-}_{kin.}/E^{tot.}_{kin.}$', fontsize=67, ha='center', va='center',
        rotation=60, rotation_mode='anchor')
ax.text(0.8862, 0.5124, r'$E^{\pi^+}_{kin.}/E^{tot.}_{kin.}$', fontsize=67, ha='center', va='center',
        rotation=-60, rotation_mode='anchor')

# vertex labels
ax.text(0.500, 0.782, r'$K^-$', fontsize=64, ha='center', va='center', zorder=7)
ax.text(0.0741, 0.0368, r'$p$', fontsize=64, ha='center', va='center', zorder=7)
ax.text(0.9213, 0.0408, r'$\pi^+$', fontsize=64, ha='center', va='center', zorder=7)

# note (cut by the right edge, as in the original slide)
fig.text(1430 / 1775, 1 - 125 / 1492, 'NB: wrong', color='#ff2a00', fontsize=63,
         family=['Lato', 'DejaVu Sans'], ha='left', va='baseline')
fig.text(1397 / 1775, 1 - 228 / 1492, 'fractions from', color='#ff2a00', fontsize=63,
         family=['Lato', 'DejaVu Sans'], ha='left', va='baseline')

fig.savefig('out.png', dpi=100)
